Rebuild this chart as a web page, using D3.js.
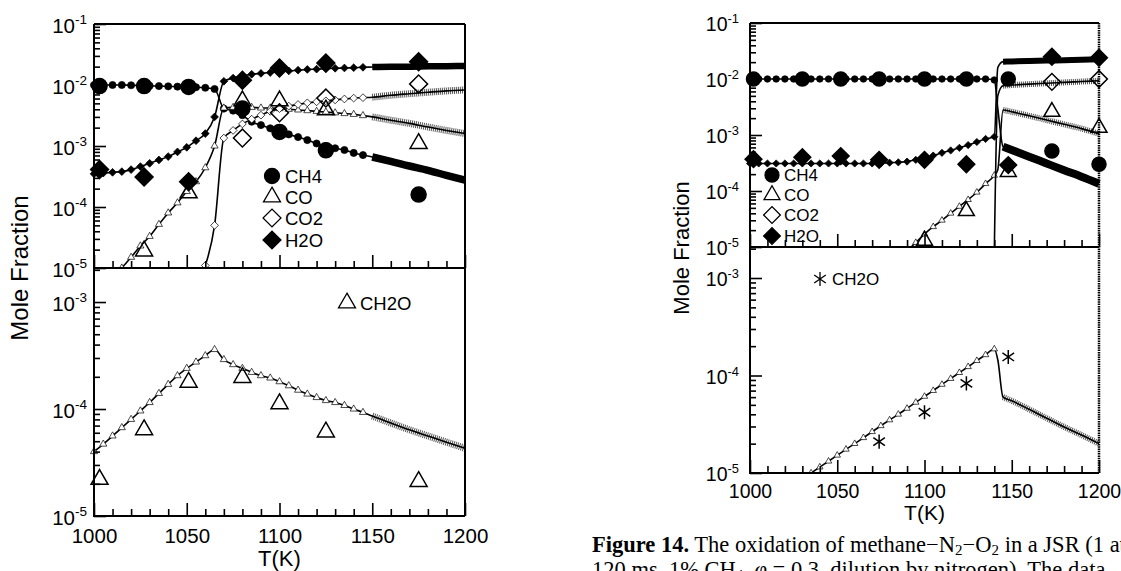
<!DOCTYPE html>
<html>
<head>
<meta charset="utf-8">
<script src="https://cdn.jsdelivr.net/npm/d3@7"></script>
<style>
  html, body { margin: 0; padding: 0; background: #fff; }
  svg { display: block; font-family: 'Liberation Sans', Arial, sans-serif; }
</style>
</head>
<body>
<svg id="chart" width="1121" height="571"></svg>
<script>
/* global d3 */
// ---- left figure: model grid (K) ----
const tempA = [1000, 1005, 1010, 1015, 1020, 1025, 1030, 1035, 1040, 1045, 1050, 1055, 1060, 1065,
  1070, 1075, 1080, 1085, 1090, 1095, 1100, 1105, 1110, 1115, 1120, 1125, 1130, 1135, 1140, 1145,
  1150, 1160, 1170, 1180, 1190, 1200];
const ch4ModelA = [1.0e-2, 1.0e-2, 1.0e-2, 1.0e-2, 9.9e-3, 9.8e-3, 9.7e-3, 9.6e-3, 9.5e-3, 9.4e-3, 9.3e-3, 9.2e-3, 9.0e-3, 8.6e-3,
  4.1e-3, 3.8e-3, 3.2e-3, 2.5e-3, 2.2e-3, 1.95e-3, 1.7e-3, 1.55e-3, 1.4e-3, 1.25e-3, 1.1e-3, 1.0e-3, 9.2e-4, 8.6e-4, 7.7e-4, 7.1e-4,
  6.6e-4, 5.6e-4, 4.7e-4, 4.0e-4, 3.3e-4, 2.75e-4];
const coModelA = [null, null, 6.5e-6, 1.0e-5, 1.5e-5, 2.3e-5, 3.3e-5, 5.2e-5, 8.0e-5, 1.17e-4, 1.8e-4, 2.6e-4, 4.4e-4, 1.0e-3,
  4.2e-3, 4.3e-3, 4.3e-3, 4.3e-3, 4.2e-3, 4.2e-3, 4.1e-3, 4.0e-3, 3.9e-3, 3.8e-3, 3.7e-3, 3.6e-3, 3.5e-3, 3.4e-3, 3.3e-3, 3.15e-3,
  3.0e-3, 2.65e-3, 2.35e-3, 2.05e-3, 1.8e-3, 1.6e-3];
const co2ModelA = [null, null, null, null, null, null, null, null, null, null, null, 6.0e-6, 1.1e-5, 5.0e-5,
  1.35e-3, 1.8e-3, 2.3e-3, 2.75e-3, 3.2e-3, 3.7e-3, 4.1e-3, 4.5e-3, 4.8e-3, 5.1e-3, 5.3e-3, 5.5e-3, 5.7e-3, 5.9e-3, 6.1e-3, 6.2e-3,
  6.3e-3, 6.8e-3, 7.2e-3, 7.6e-3, 8.0e-3, 8.3e-3];
const h2oModelA = [3.5e-4, 3.6e-4, 3.7e-4, 3.8e-4, 4.1e-4, 4.6e-4, 5.2e-4, 5.9e-4, 6.7e-4, 8.0e-4, 9.5e-4, 1.22e-3, 1.6e-3, 3.0e-3,
  1.15e-2, 1.3e-2, 1.4e-2, 1.5e-2, 1.55e-2, 1.6e-2, 1.65e-2, 1.7e-2, 1.75e-2, 1.8e-2, 1.82e-2, 1.85e-2, 1.88e-2, 1.9e-2, 1.92e-2, 1.95e-2,
  1.97e-2, 2.0e-2, 2.0e-2, 2.02e-2, 2.03e-2, 2.05e-2];
const ch2oModelA = [4.0e-5, 4.7e-5, 5.6e-5, 6.7e-5, 8.0e-5, 9.6e-5, 1.15e-4, 1.4e-4, 1.7e-4, 2.05e-4, 2.4e-4, 2.75e-4, 3.15e-4, 3.6e-4,
  2.9e-4, 2.6e-4, 2.4e-4, 2.2e-4, 2.05e-4, 1.95e-4, 1.8e-4, 1.65e-4, 1.5e-4, 1.38e-4, 1.28e-4, 1.2e-4, 1.15e-4, 1.08e-4, 1.0e-4, 9.3e-5,
  8.6e-5, 7.4e-5, 6.4e-5, 5.6e-5, 4.9e-5, 4.3e-5];

// left figure: measurements
const tempExpA = [1003, 1027, 1051, 1080, 1100, 1125, 1175];
const ch4ExpA = [9.6e-3, 9.6e-3, 9.3e-3, 4.1e-3, 1.7e-3, 8.5e-4, 1.6e-4];
const coExpA = [null, 1.9e-5, 1.7e-4, 5.5e-3, 5.5e-3, 3.9e-3, 1.1e-3];
const co2ExpA = [null, null, null, 1.35e-3, 3.5e-3, 6.1e-3, 1.04e-2];
const h2oExpA = [4.1e-4, 3.1e-4, 2.6e-4, 1.2e-2, 1.9e-2, 2.3e-2, 2.4e-2];
const ch2oExpA = [2.2e-5, 6.4e-5, 1.78e-4, 1.97e-4, 1.12e-4, 6.1e-5, 2.1e-5];

// ---- right figure: model grid (K) ----
const tempB = [1000, 1005, 1010, 1015, 1020, 1025, 1030, 1035, 1040, 1045, 1050, 1055, 1060, 1065, 1070,
  1075, 1080, 1085, 1090, 1095, 1100, 1105, 1110, 1115, 1120, 1125, 1130, 1135, 1140,
  1142, 1145, 1150, 1160, 1170, 1180, 1190, 1200];
const ch4ModelB = [1.0e-2, 1.0e-2, 1.0e-2, 1.0e-2, 1.0e-2, 1.0e-2, 1.0e-2, 1.0e-2, 1.0e-2, 1.0e-2, 1.0e-2, 1.0e-2, 1.0e-2, 1.0e-2, 1.0e-2,
  1.0e-2, 1.0e-2, 1.0e-2, 1.0e-2, 1.0e-2, 1.0e-2, 1.0e-2, 1.0e-2, 1.0e-2, 1.0e-2, 1.0e-2, 1.0e-2, 1.0e-2, 9.6e-3,
  3.0e-3, 6.2e-4, 5.4e-4, 4.1e-4, 3.1e-4, 2.35e-4, 1.8e-4, 1.35e-4];
const coModelB = [null, null, null, null, null, null, null, null, null, null, null, null, null, null, null,
  null, null, null, 8.5e-6, 1.2e-5, 1.7e-5, 2.3e-5, 3.0e-5, 4.0e-5, 5.3e-5, 7.0e-5, 9.5e-5, 1.35e-4, 1.9e-4,
  2.4e-4, 2.8e-3, 2.6e-3, 2.2e-3, 1.85e-3, 1.55e-3, 1.3e-3, 1.05e-3];
const co2ModelB = [null, null, null, null, null, null, null, null, null, null, null, null, null, null, null,
  null, null, null, null, null, null, null, null, null, null, null, null, null, 8.0e-6,
  5.0e-3, 7.6e-3, 7.8e-3, 8.1e-3, 8.4e-3, 8.7e-3, 9.0e-3, 9.3e-3];
const h2oModelB = [3.1e-4, 3.1e-4, 3.1e-4, 3.1e-4, 3.1e-4, 3.1e-4, 3.1e-4, 3.1e-4, 3.1e-4, 3.1e-4, 3.1e-4, 3.1e-4, 3.1e-4, 3.1e-4, 3.1e-4,
  3.1e-4, 3.2e-4, 3.25e-4, 3.35e-4, 3.6e-4, 3.9e-4, 4.3e-4, 4.8e-4, 5.3e-4, 5.9e-4, 6.6e-4, 7.5e-4, 8.5e-4, 9.3e-4,
  1.6e-2, 2.04e-2, 2.06e-2, 2.1e-2, 2.13e-2, 2.17e-2, 2.2e-2, 2.25e-2];
const ch2oModelB = [null, null, null, null, null, null, null, 1.0e-5, 1.15e-5, 1.32e-5, 1.52e-5, 1.75e-5, 2.0e-5, 2.3e-5, 2.65e-5,
  3.05e-5, 3.5e-5, 4.0e-5, 4.6e-5, 5.3e-5, 6.1e-5, 7.0e-5, 8.1e-5, 9.3e-5, 1.07e-4, 1.23e-4, 1.42e-4, 1.63e-4, 1.87e-4,
  1.45e-4, 6.0e-5, 5.5e-5, 4.5e-5, 3.65e-5, 2.97e-5, 2.45e-5, 2.0e-5];

// right figure: measurements
const tempExpB = [1002, 1030, 1052, 1074, 1100, 1124, 1148, 1173, 1200];
const ch4ExpB = [1.0e-2, 1.0e-2, 1.0e-2, 1.0e-2, 1.0e-2, 1.0e-2, 1.0e-2, 5.2e-4, 3.0e-4];
const coExpB = [null, null, null, null, 1.3e-5, 4.4e-5, 2.2e-4, 2.6e-3, 1.35e-3];
const co2ExpB = [null, null, null, null, null, null, null, 8.9e-3, 1.0e-2];
const h2oExpB = [3.7e-4, 4.0e-4, 4.2e-4, 3.6e-4, 3.6e-4, 3.0e-4, 2.9e-4, 2.5e-2, 2.4e-2];
const ch2oTempExpB = [1074, 1100, 1124, 1148];
const ch2oExpB = [2.1e-5, 4.2e-5, 8.3e-5, 1.55e-4];

const xDomain = [1000, 1200];
const xLabels = [1000, 1050, 1100, 1150, 1200];
const topMajors = [1e-1, 1e-2, 1e-3, 1e-4, 1e-5];
const botMajors = [1e-3, 1e-4, 1e-5];
const legendNames = ['CH4', 'CO', 'CO2', 'H2O'];

const svg = d3.select('#chart');

function symbolPath(kind, size) {
  if (kind === 'asterisk') {
    const r = Math.sqrt(size) / 2;
    return [90, 35, -35].map((a) => {
      const dx = r * Math.cos(a * Math.PI / 180);
      const dy = r * Math.sin(a * Math.PI / 180);
      return `M${-dx},${-dy}L${dx},${dy}`;
    }).join('');
  }
  const type = { circle: d3.symbolCircle, triangle: d3.symbolTriangle, diamond: d3.symbolSquare }[kind];
  return d3.symbol().type(type).size(size)();
}
function place(kind, px, py) {
  return `translate(${px},${py})${kind === 'diamond' ? ' rotate(45)' : ''}`;
}

function drawModel(g, x, y, temps, values, st, denseFrom) {
  const pts = temps.map((t, i) => ({ t, v: values[i] })).filter(d => d.v != null);
  const line = d3.line().x(d => x(d.t)).y(d => y(d.v)).curve(d3.curveMonotoneX);
  const dense = pts.filter(d => d.t >= denseFrom);
  if (st.filled) {
    g.append('path').attr('d', line(dense)).attr('fill', 'none')
      .attr('stroke', '#000').attr('stroke-width', st.band);
  } else {
    g.append('path').attr('d', line(dense)).attr('fill', 'none')
      .attr('stroke', '#555').attr('stroke-width', st.band).attr('stroke-dasharray', '1,1');
  }
  g.append('path').attr('d', line(pts)).attr('fill', 'none')
    .attr('stroke', '#000').attr('stroke-width', 1.6);
  g.selectAll(null)
    .data(pts.filter(d => d.t < denseFrom && d.t % 5 === 0))
    .join('path')
    .attr('transform', d => place(st.sym, x(d.t), y(d.v)))
    .attr('d', symbolPath(st.sym, st.small))
    .attr('fill', st.filled ? '#000' : '#fff')
    .attr('stroke', '#000')
    .attr('stroke-width', 0.7);
}

function drawExp(g, x, y, temps, values, st) {
  const pts = temps.map((t, i) => ({ t, v: values[i] })).filter(d => d.v != null);
  g.selectAll(null)
    .data(pts)
    .join('path')
    .attr('transform', d => place(st.sym, x(d.t), y(d.v)))
    .attr('d', symbolPath(st.sym, st.big))
    .attr('fill', st.filled ? '#000' : 'none')
    .attr('stroke', '#000')
    .attr('stroke-width', 1.5);
}

function yAxis(g, y, x0, majors, p) {
  const minors = y.ticks().filter(v => !majors.some(m => Math.abs(m - v) / m < 1e-6));
  const ax = g.append('g').attr('transform', `translate(${x0},0)`);
  ax.call(d3.axisLeft(y).tickValues(majors).tickSize(-12).tickFormat(''));
  ax.append('g').call(d3.axisLeft(y).tickValues(minors).tickSize(-6).tickFormat(''));
  ax.selectAll('.domain').remove();
  ax.selectAll('line').attr('stroke', '#000').attr('stroke-width', 1.6);
  majors.forEach((v) => {
    const t = g.append('text')
      .attr('x', x0 - p.labelGap)
      .attr('y', y(v) + p.tickFs * 0.42)
      .attr('text-anchor', 'end')
      .attr('font-size', p.tickFs);
    t.append('tspan').text('10');
    t.append('tspan').attr('dy', -p.tickFs * 0.42).attr('font-size', p.tickFs * 0.66)
      .text(`-${Math.round(-Math.log10(v))}`);
  });
}

function xAxis(g, x, yPos, withLabels, p) {
  const majors = xLabels;
  const minors = d3.range(1000, 1201, 10).filter(v => v % 50 !== 0);
  const ax = g.append('g').attr('transform', `translate(0,${yPos})`);
  ax.call(d3.axisBottom(x).tickValues(majors).tickSize(-13)
    .tickFormat(withLabels ? d3.format('d') : ''));
  ax.append('g').call(d3.axisBottom(x).tickValues(minors).tickSize(-7).tickFormat(''));
  ax.selectAll('.domain').remove();
  ax.selectAll('line').attr('stroke', '#000').attr('stroke-width', 1.6);
  ax.selectAll('text')
    .attr('font-size', p.tickFs)
    .attr('font-family', "'Liberation Sans', Arial, sans-serif")
    .attr('fill', '#000')
    .attr('y', 0)
    .attr('dy', p.xLabelDy);
}

let clipId = 0;
function subplot(p, yScale, yTopPx, yBotPx, majors, seriesList, withLabels) {
  const g = svg.append('g');
  clipId += 1;
  const id = `clip${clipId}`;
  svg.append('clipPath').attr('id', id).append('rect')
    .attr('x', p.x0 - 14).attr('y', yTopPx)
    .attr('width', p.x1 - p.x0 + 28).attr('height', yBotPx - yTopPx);
  const data = g.append('g').attr('clip-path', `url(#${id})`);
  seriesList.forEach(s => drawModel(data, p.x, yScale, s.temps, s.model, s.st, p.denseFrom));
  seriesList.forEach((s) => {
    if (s.exp) drawExp(data, p.x, yScale, s.expTemps, s.exp, s.st);
  });
  yAxis(g, yScale, p.x0, majors, p);
  xAxis(g, p.x, yBotPx, withLabels, p);
}

function panel(p) {
  p.x = d3.scaleLinear().domain(xDomain).range([p.x0, p.x1]);
  const yTop = d3.scaleLog().domain([1e-5, 1e-1]).range([p.yMid, p.yTop]);
  const yBot = d3.scaleLog().domain([1e-5, 2.08e-3]).range([p.yBot, p.yMid]);
  const st = p.styles;

  subplot(p, yTop, p.yTop, p.yMid, topMajors, [
    { temps: p.temps, model: p.ch4, st: st.ch4, expTemps: p.expTemps, exp: p.ch4Exp },
    { temps: p.temps, model: p.h2o, st: st.h2o, expTemps: p.expTemps, exp: p.h2oExp },
    { temps: p.temps, model: p.co, st: st.co, expTemps: p.expTemps, exp: p.coExp },
    { temps: p.temps, model: p.co2, st: st.co2, expTemps: p.expTemps, exp: p.co2Exp },
  ], false);
  subplot(p, yBot, p.yMid, p.yBot, botMajors, [
    { temps: p.temps, model: p.ch2o, st: st.ch2oModel, expTemps: p.ch2oExpTemps, exp: null },
  ], true);
  // CH2O measurements (own symbol)
  const gExp = svg.append('g');
  drawExp(gExp, p.x, yBot, p.ch2oExpTemps, p.ch2oExp, st.ch2oExp);

  // frame
  const frame = svg.append('g').attr('fill', 'none').attr('stroke', '#000');
  frame.append('path').attr('stroke-width', 2)
    .attr('d', `M${p.x0},${p.yTop}H${p.x1}M${p.x0},${p.yTop}V${p.yBot}H${p.x1}M${p.x0},${p.yMid}H${p.x1}`);
  frame.append('line').attr('x1', p.x1).attr('x2', p.x1).attr('y1', p.yTop).attr('y2', p.yBot)
    .attr('stroke-width', p.rightBorderWidth).attr('stroke-dasharray', p.rightBorderDash);

  // legend (top)
  const leg = svg.append('g');
  const legSt = [st.ch4, st.co, st.co2, st.h2o];
  legendNames.forEach((name, i) => {
    const ly = p.legY[i];
    leg.append('path')
      .attr('transform', place(legSt[i].sym, p.legX, ly))
      .attr('d', symbolPath(legSt[i].sym, legSt[i].big))
      .attr('fill', legSt[i].filled ? '#000' : 'none')
      .attr('stroke', '#000').attr('stroke-width', 1.3);
    leg.append('text').attr('x', p.legX + p.legTextDx).attr('y', ly + p.legFs * 0.36)
      .attr('font-size', p.legFs).text(name);
  });
  // legend (bottom)
  leg.append('path')
    .attr('transform', place(st.ch2oExp.sym, p.leg2X, p.leg2Y))
    .attr('d', symbolPath(st.ch2oExp.sym, st.ch2oExp.big))
    .attr('fill', 'none').attr('stroke', '#000').attr('stroke-width', 1.3);
  leg.append('text').attr('x', p.leg2X + p.legTextDx).attr('y', p.leg2Y + p.legFs * 0.36)
    .attr('font-size', p.legFs).text('CH2O');

  // axis titles
  svg.append('text').attr('x', (p.x0 + p.x1) / 2).attr('y', p.tkY)
    .attr('text-anchor', 'middle').attr('font-size', p.titleFs).text('T(K)');
  svg.append('text')
    .attr('transform', `translate(${p.ylabX},${p.ylabY}) rotate(-90)`)
    .attr('text-anchor', 'middle').attr('font-size', p.ylabFs).text('Mole Fraction');
}

panel({
  x0: 94, x1: 465, yTop: 24, yMid: 268, yBot: 516, denseFrom: 1150,
  temps: tempA, ch4: ch4ModelA, co: coModelA, co2: co2ModelA, h2o: h2oModelA, ch2o: ch2oModelA,
  expTemps: tempExpA, ch4Exp: ch4ExpA, coExp: coExpA, co2Exp: co2ExpA, h2oExp: h2oExpA,
  ch2oExpTemps: tempExpA, ch2oExp: ch2oExpA,
  styles: {
    ch4: { sym: 'circle', filled: true, small: 40, big: 177, band: 7.5 },
    co: { sym: 'triangle', filled: false, small: 22, big: 125, band: 7 },
    co2: { sym: 'diamond', filled: false, small: 30, big: 160, band: 7 },
    h2o: { sym: 'diamond', filled: true, small: 30, big: 160, band: 6.5 },
    ch2oModel: { sym: 'triangle', filled: false, small: 22, big: 125, band: 7 },
    ch2oExp: { sym: 'triangle', filled: false, small: 22, big: 125 },
  },
  tickFs: 20.5, labelGap: 7, xLabelDy: 27,
  legX: 272, legY: [176, 197, 218, 240], legTextDx: 13, legFs: 18.5,
  leg2X: 347, leg2Y: 303,
  titleFs: 22, tkY: 566, ylabX: 28, ylabY: 268, ylabFs: 24,
  rightBorderWidth: 2, rightBorderDash: null,
});

panel({
  x0: 750, x1: 1099, yTop: 23, yMid: 247, yBot: 473, denseFrom: 1145,
  temps: tempB, ch4: ch4ModelB, co: coModelB, co2: co2ModelB, h2o: h2oModelB, ch2o: ch2oModelB,
  expTemps: tempExpB, ch4Exp: ch4ExpB, coExp: coExpB, co2Exp: co2ExpB, h2oExp: h2oExpB,
  ch2oExpTemps: ch2oTempExpB, ch2oExp: ch2oExpB,
  styles: {
    ch4: { sym: 'circle', filled: true, small: 34, big: 154, band: 8 },
    co: { sym: 'triangle', filled: false, small: 18, big: 110, band: 6 },
    co2: { sym: 'diamond', filled: false, small: 26, big: 140, band: 6 },
    h2o: { sym: 'diamond', filled: true, small: 26, big: 140, band: 6 },
    ch2oModel: { sym: 'triangle', filled: false, small: 18, big: 110, band: 6 },
    ch2oExp: { sym: 'asterisk', filled: false, small: 18, big: 200 },
  },
  tickFs: 19.5, labelGap: 11, xLabelDy: 25,
  legX: 772, legY: [175, 195, 215, 236], legTextDx: 12, legFs: 17,
  leg2X: 820, leg2Y: 279,
  titleFs: 21, tkY: 520, ylabX: 689, ylabY: 248, ylabFs: 22,
  rightBorderWidth: 2.5, rightBorderDash: '1.5,0.8',
});

// caption (cut off by the page edge, as in the source)
const cap = svg.append('g').attr('font-family', "'Liberation Serif', 'Times New Roman', serif").attr('font-size', 22.5);
const l1 = cap.append('text').attr('x', 592).attr('y', 552);
l1.append('tspan').attr('font-weight', 'bold').text('Figure 14.');
l1.append('tspan').text(' The oxidation of methane\u2212N');
l1.append('tspan').attr('font-size', 15).attr('dy', 3).text('2');
l1.append('tspan').attr('dy', -3).text('\u2212O');
l1.append('tspan').attr('font-size', 15).attr('dy', 3).text('2');
l1.append('tspan').attr('dy', -3).text(' in a JSR (1 atm, \u03c4 =');
const l2 = cap.append('text').attr('x', 592).attr('y', 577);
l2.append('tspan').text('120 ms, 1% CH');
l2.append('tspan').attr('font-size', 15).attr('dy', 3).text('4');
l2.append('tspan').attr('dy', -3).text(', ');
l2.append('tspan').attr('font-style', 'italic').text('\u03c6');
l2.append('tspan').text(' = 0.3, dilution by nitrogen). The data');
</script>
</body>
</html>
